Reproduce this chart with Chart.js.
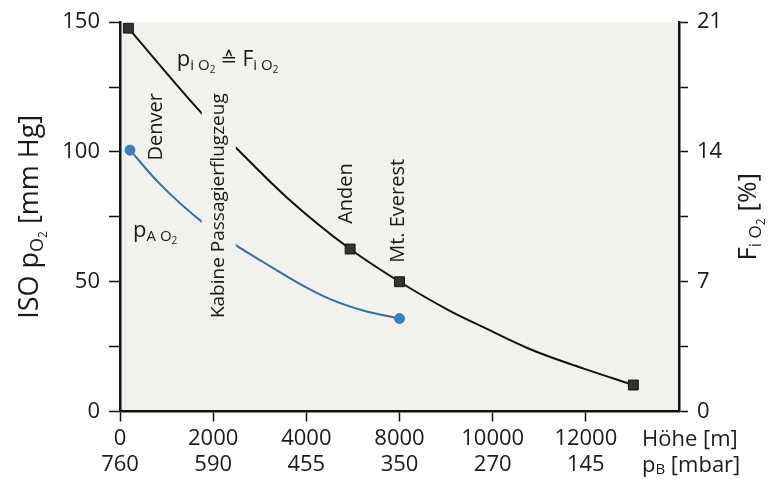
<!DOCTYPE html>
<html>
<head>
<meta charset="utf-8">
<script src="https://cdn.jsdelivr.net/npm/chart.js@4"></script>
<style>
  body { margin: 0; background: #fff; }
</style>
</head>
<body>
<canvas id="myChart" width="768" height="479"></canvas>
<script>
// x positions are tick slots (0 = 0 m, 1 = 2000 m, 2 = 4000 m, 3 = 8000 m, ...)
const altitudeLabels = ['0', '2000', '4000', '8000', '10000', '12000'];
const pressureLabels = ['760', '590', '455', '350', '270', '145'];

// p_iO2 curve (black)
const inspX = [0.09, 0.89, 1.25, 1.79, 2.47, 3.0, 3.54, 3.90, 4.43, 4.97, 5.51];
const inspY = [147.7, 114.4, 101.4, 82.5, 62.6, 50, 38.8, 32.5, 23.6, 16.6, 10.2];
const inspMarkX = [0.09, 2.47, 3.0, 5.51];
const inspMarkY = [147.7, 62.6, 50, 10.2];

// p_AO2 curve (blue)
const alvX = [0.107, 0.43, 0.91, 1.25, 1.54, 1.90, 2.25, 2.61, 3.0];
const alvY = [100.7, 87.6, 72.2, 63.9, 57.5, 49.8, 43.4, 38.9, 35.8];
const alvMarkX = [0.107, 3.0];
const alvMarkY = [100.7, 35.8];

const leftTicks = [0, 50, 100, 150];
const rightTicks = [0, 7, 14, 21];

const FONT = '"Open Sans", "DejaVu Sans", sans-serif';
const plotBg = '#f1f1ee';

const pts = (xs, ys) => xs.map((x, i) => ({ x: x, y: ys[i] }));

// draws text made of runs (normal / subscript parts)
function runsWidth(ctx, runs) {
  let w = 0;
  runs.forEach(r => { ctx.font = r[1] + 'px ' + FONT; w += ctx.measureText(r[0]).width; });
  return w;
}
function drawRuns(ctx, runs, x, y) {
  runs.forEach(r => {
    ctx.font = r[1] + 'px ' + FONT;
    ctx.fillText(r[0], x, y + (r[2] || 0));
    x += ctx.measureText(r[0]).width;
  });
}

const textPlugin = {
  id: 'texts',
  beforeDraw(chart) {
    const a = chart.chartArea, ctx = chart.ctx;
    ctx.save();
    ctx.fillStyle = plotBg;
    ctx.fillRect(a.left, a.top, a.right - a.left, a.bottom - a.top);
    ctx.restore();
  },
  afterDatasetsDraw(chart) {
    const ctx = chart.ctx, sx = chart.scales.x, sy = chart.scales.y;
    const a = chart.chartArea;
    ctx.save();
    ctx.fillStyle = '#1a1a1a';

    // rotated labels
    const rot = (text, vx, vy, size, gap) => {
      ctx.save();
      ctx.translate(sx.getPixelForValue(vx), sy.getPixelForValue(vy));
      ctx.rotate(-Math.PI / 2);
      ctx.font = size + 'px ' + FONT;
      const w = ctx.measureText(text).width;
      if (gap) {
        ctx.fillStyle = plotBg;
        ctx.fillRect(-w / 2 - 4, -gap / 2, w + 8, gap);
        ctx.fillStyle = '#1a1a1a';
      }
      ctx.textAlign = 'center';
      ctx.textBaseline = 'middle';
      ctx.fillText(text, 0, 0);
      ctx.restore();
    };
    rot('Denver', 0.39, 109.7, 20);
    rot('Kabine Passagierflugzeug', 1.06, 79.3, 19, 34);
    rot('Anden', 2.43, 84, 20);
    rot('Mt. Everest', 2.99, 77.3, 20);

    ctx.textBaseline = 'alphabetic';
    drawRuns(ctx, [['p', 22], ['i O', 15, 4], ['2', 10, 7], [' \u2259 ', 20], ['F', 21], ['i O', 15, 4], ['2', 10, 7]],
      sx.getPixelForValue(0.61), sy.getPixelForValue(133));
    drawRuns(ctx, [['p', 22], ['A O', 15, 4], ['2', 10, 7]],
      sx.getPixelForValue(0.14), sy.getPixelForValue(67.1));

    // axis titles
    const title = (runs, cx, cy) => {
      ctx.save();
      ctx.translate(cx, cy);
      ctx.rotate(-Math.PI / 2);
      drawRuns(ctx, runs, -runsWidth(ctx, runs) / 2, 0);
      ctx.restore();
    };
    title([['ISO p', 27], ['O', 18, 5], ['2', 12, 9], [' [mm Hg]', 27]], 38, (a.top + a.bottom) / 2);
    title([['F', 26], ['i O', 17, 5], ['2', 12, 9], [' [%]', 26]], 756, (a.top + a.bottom) / 2);

    // x axis unit labels
    ctx.textBaseline = 'middle';
    drawRuns(ctx, [['H\u00f6he [m]', 22]], a.right - 37, 440);
    drawRuns(ctx, [['p', 22], ['B', 15, 4], [' [mbar]', 22]], a.right - 37, 466);
    ctx.restore();
  }
};

const ctx = document.getElementById('myChart').getContext('2d');

const data = {
  datasets: [
    {
      label: 'pi O2 Punkte',
      data: pts(inspMarkX, inspMarkY),
      showLine: false,
      pointStyle: 'rect',
      pointRadius: 7,
      backgroundColor: '#333',
      borderColor: '#111',
      borderWidth: 1,
      order: 0
    },
    {
      label: 'pA O2 Punkte',
      data: pts(alvMarkX, alvMarkY),
      showLine: false,
      pointStyle: 'circle',
      pointRadius: 5,
      backgroundColor: '#3f7dba',
      borderColor: '#3f7dba',
      order: 0
    },
    {
      label: 'pi O2',
      data: pts(inspX, inspY),
      showLine: true,
      pointRadius: 0,
      borderColor: '#111',
      borderWidth: 2,
      cubicInterpolationMode: 'monotone',
      order: 1
    },
    {
      label: 'pA O2',
      data: pts(alvX, alvY),
      showLine: true,
      pointRadius: 0,
      borderColor: '#3b6d9c',
      borderWidth: 2,
      cubicInterpolationMode: 'monotone',
      order: 1
    }
  ]
};

const tickFont = { family: FONT, size: 22 };

const config = {
  type: 'scatter',
  data: data,
  options: {
    responsive: false,
    animation: false,
    devicePixelRatio: 1,
    layout: { padding: { top: 20 } },
    plugins: {
      legend: { display: false },
      tooltip: { enabled: false }
    },
    scales: {
      x: {
        type: 'linear',
        min: 0,
        max: 6,
        afterBuildTicks: s => { s.ticks = altitudeLabels.map((l, i) => ({ value: i })); },
        afterFit: s => { s.height = 67.5; },
        ticks: {
          font: tickFont,
          color: '#1a1a1a',
          padding: 4,
          maxRotation: 0,
          autoSkip: false,
          callback: v => [altitudeLabels[v], pressureLabels[v]]
        },
        grid: { drawOnChartArea: false, tickLength: 10, tickColor: '#111', tickWidth: 1.5 },
        border: { color: '#111', width: 2.5 }
      },
      y: {
        position: 'left',
        min: 0,
        max: 150,
        afterBuildTicks: s => { s.ticks = [0, 25, 50, 75, 100, 125, 150].map(v => ({ value: v })); },
        afterFit: s => { s.width = 120; },
        ticks: {
          font: tickFont,
          color: '#1a1a1a',
          padding: 9,
          callback: v => leftTicks.includes(v) ? String(v) : ''
        },
        grid: { drawOnChartArea: false, tickLength: 11, tickColor: '#111', tickWidth: 1.5 },
        border: { color: '#111', width: 2.5 }
      },
      y2: {
        position: 'right',
        min: 0,
        max: 21,
        afterBuildTicks: s => { s.ticks = [0, 3.5, 7, 10.5, 14, 17.5, 21].map(v => ({ value: v })); },
        afterFit: s => { s.width = 89; },
        ticks: {
          font: tickFont,
          color: '#1a1a1a',
          padding: 9,
          callback: v => rightTicks.includes(v) ? String(v) : ''
        },
        grid: { drawOnChartArea: false, tickLength: 9, tickColor: '#111', tickWidth: 1.5 },
        border: { color: '#111', width: 2.5 }
      }
    }
  },
  plugins: [textPlugin]
};

new Chart(ctx, config);
</script>
</body>
</html>
